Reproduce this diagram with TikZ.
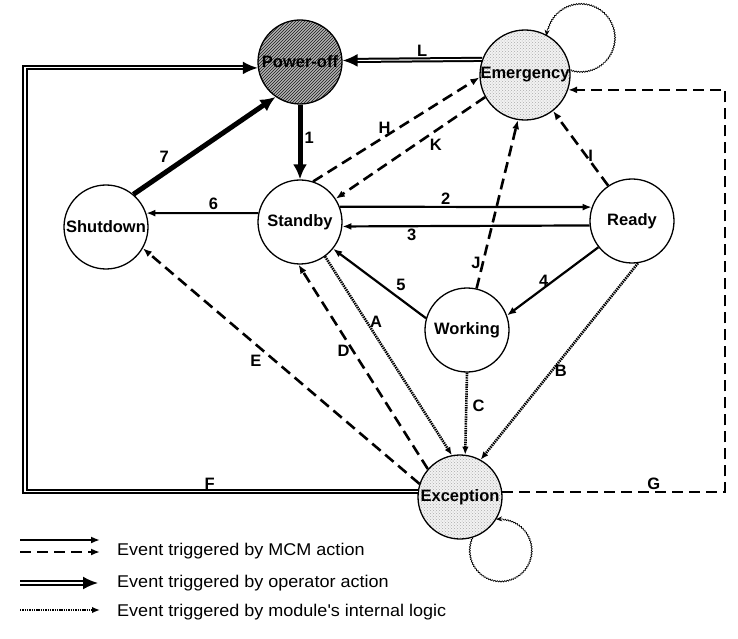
\documentclass[tikz,border=0pt]{standalone}
\usepackage{fontspec}
\setmainfont{Liberation Sans}
\newfontfamily\legendfont{Liberation Sans}[FakeStretch=1.06]
\usetikzlibrary{arrows.meta,patterns,decorations.pathmorphing}
\begin{document}
\begin{tikzpicture}[
                    x=1pt, y=1pt,
                    >={Latex[length=9pt,width=7pt]},
                    state/.style={draw, circle, line width=1.3pt, minimum size=84pt, inner sep=0pt, font=\fontsize{16.5}{19}\selectfont\bfseries},
                    powerfill/.style={preaction={fill=gray!60}, pattern=north east lines, pattern color=black!90},
                    dotfill/.style={preaction={fill=gray!10}, pattern=crosshatch dots, pattern color=gray!65},
                    mcm/.style={line width=2.2pt, ->},
                    mcmdash/.style={mcm, line width=2.6pt, dash pattern=on 11pt off 6pt},
                    intern/.style={line width=2.6pt, dash pattern=on 1.4pt off 0.9pt, -{Latex[length=8pt,width=6.5pt]}},
                    oper/.style={double, line width=2pt, double distance=1.1pt, -{Latex[length=15pt,width=13pt]}},
                    operthick/.style={line width=5pt, -{Latex[length=15pt,width=14pt]}},
                    selfloop/.style={line width=0.7pt, decorate, decoration={snake, amplitude=0.6pt, segment length=2.5pt, post length=5pt}, -{Stealth[length=6pt,width=5pt]}},
                    lbl/.style={font=\fontsize{16.5}{19}\selectfont\bfseries, inner sep=2pt},
                    legend/.style={font=\legendfont\fontsize{17}{20}\selectfont, anchor=west, inner sep=0pt}
                    ]
    \useasboundingbox (0,0) rectangle (738,638);

    % states
    \node [state, powerfill] (poweroff) at (300,576) {Power-off};
    \node [state] (standby) at (300,416) {Standby};
    \node [state] (shutdown) at (106,411) {Shutdown};
    \node [state, dotfill] (emergency) at (525,563) {Emergency};
    \node [state] (ready) at (632,417) {Ready};
    \node [state] (working) at (467,308) {Working};
    \node [state, dotfill] (exception) at (460,141) {Exception};

    \coordinate (leftrail) at (25,146);
    \coordinate (rightrail) at (725,146);

    % operator actions
    \draw[operthick] (poweroff.-90) -- node[lbl, pos=0.45, right] {1} (standby.90);
    \draw[operthick] (shutdown.50) -- node[lbl, pos=0.28, above left] {7} (poweroff.235);
    \draw[oper] (emergency.160) -- node[lbl, pos=0.43, above] {L} (poweroff.2);
    \draw[oper] (exception.173) -- node[lbl, pos=0.53, above, inner sep=1pt] {F} (exception.173 -| leftrail) |- (poweroff.188);

    % MCM actions
    \draw[mcm] (standby.168) -- node[lbl, pos=0.4, above] {6} (shutdown.19);
    \draw[mcm] (standby.21) -- node[lbl, pos=0.42, above, inner sep=1pt] {2} (ready.161);
    \draw[mcm] (ready.186) -- node[lbl, pos=0.72, below] {3} (standby.-6);
    \draw[mcm] (ready.218) -- node[lbl, pos=0.6, above, inner sep=1pt] {4} (working.20);
    \draw[mcm] (working.164) -- node[lbl, pos=0.27, above=6pt] {5} (standby.-39);
    \draw[mcmdash] (standby.72) -- node[lbl, pos=0.43, above] {H} (emergency.183);
    \draw[mcmdash] (emergency.209) -- node[lbl, pos=0.33, below=5pt] {K} (standby.33);
    \draw[mcmdash] (ready.124) -- node[lbl, pos=0.4, right, inner sep=1pt] {I} (emergency.-52);
    \draw[mcmdash] (working.77) -- node[lbl, pos=0.15, left, inner sep=1pt] {J} (emergency.-99);
    \draw[mcmdash] (exception.139) -- node[lbl, pos=0.58, left] {D} (standby.-92);
    \draw[mcmdash] (exception.162) -- node[lbl, pos=0.56, below left] {E} (shutdown.-30);
    \draw[mcmdash] (exception.7) -- node[lbl, pos=0.68, above, inner sep=1pt] {G} (exception.7 -| rightrail) |- (emergency.-19);

    % internal logic
    \draw[intern] (standby.-54) -- node[lbl, pos=0.33, right] {A} (exception.101);
    \draw[intern] (ready.-82) -- node[lbl, pos=0.55, right] {B} (exception.61);
    \draw[intern] (working.-90) -- node[lbl, pos=0.4, right=3pt] {C} (exception.83);

    % self loops
    \draw[selfloop] (emergency.6) arc[start angle=-107, end angle=177, radius=34];
    \draw[selfloop] (exception.-73) arc[start angle=157, end angle=459, radius=31];

    % legend
    \coordinate (lgA1) at (20,98);  \coordinate (lgA2) at (100,98);
    \coordinate (lgB1) at (20,86);  \coordinate (lgB2) at (100,86);
    \coordinate (lgC1) at (20,55);  \coordinate (lgC2) at (98,55);
    \coordinate (lgD1) at (20,28);  \coordinate (lgD2) at (100,28);
    \draw[mcm] (lgA1) -- (lgA2);
    \draw[mcmdash] (lgB1) -- (lgB2);
    \draw[oper] (lgC1) -- (lgC2);
    \draw[intern] (lgD1) -- (lgD2);
    \node[legend] (lgtextA) at (117,87) {Event triggered by MCM action};
    \node[legend] (lgtextC) at (117,55) {Event triggered by operator action};
    \node[legend] (lgtextD) at (117,26) {Event triggered by module's internal logic};
\end{tikzpicture}
\end{document}
